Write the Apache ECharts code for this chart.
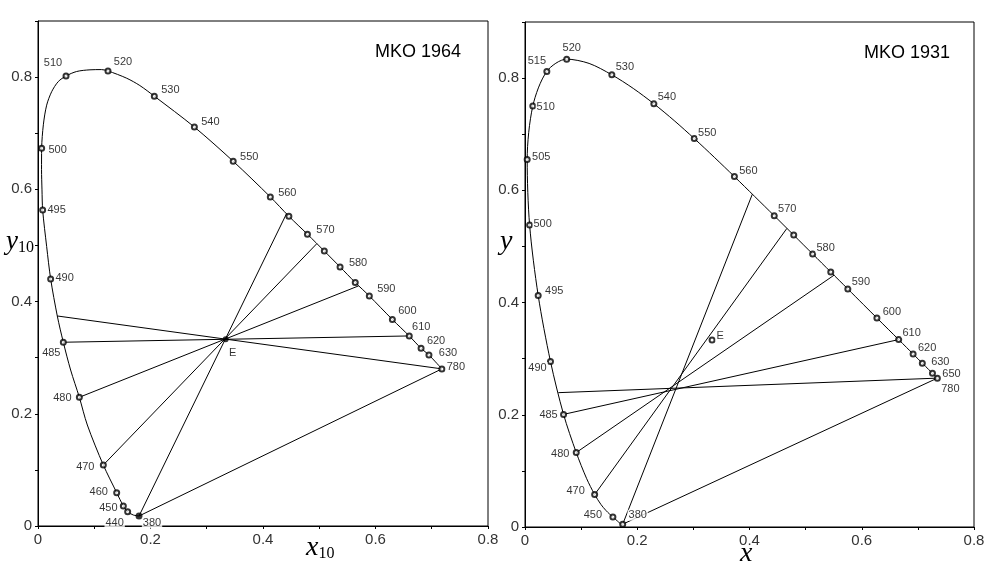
<!DOCTYPE html>
<html>
<head>
<meta charset="utf-8">
<title>MKO 1964 / MKO 1931</title>
<script src="https://cdn.jsdelivr.net/npm/echarts@6/dist/echarts.min.js"></script>
<style>
  html, body { margin: 0; padding: 0; background: #fff; }
  #chart { width: 988px; height: 579px; }
</style>
</head>
<body>
<div id="chart"></div>
<script>
// MKO 1964 (10 deg) spectrum locus
var locus64 = [
  [0.1796, 0.0178], [0.1694, 0.0196], [0.1594, 0.0255], [0.1517, 0.0357], [0.1399, 0.0594],
  [0.1161, 0.1087], [0.0877, 0.1800], [0.0735, 0.2294], [0.0580, 0.2780], [0.0450, 0.3275],
  [0.0343, 0.3743], [0.0225, 0.4403], [0.0154, 0.4980], [0.0083, 0.5630], [0.0071, 0.5990],
  [0.0063, 0.6350], [0.0065, 0.6730], [0.0095, 0.7150], [0.0154, 0.7500], [0.0243, 0.7740],
  [0.0360, 0.7920], [0.0498, 0.8020], [0.0687, 0.8100], [0.0924, 0.8130], [0.1130, 0.8134],
  [0.1244, 0.8110], [0.1577, 0.7980], [0.1810, 0.7850], [0.2068, 0.7660], [0.2780, 0.7110],
  [0.3470, 0.6500], [0.4130, 0.5865], [0.4460, 0.5520], [0.4790, 0.5200], [0.5090, 0.4900],
  [0.5370, 0.4617], [0.5640, 0.4340], [0.5890, 0.4100], [0.6300, 0.3680], [0.6600, 0.3387],
  [0.6810, 0.3167], [0.6950, 0.3048], [0.7180, 0.2800]
];
// markers: x, y, wavelength label ('' = unlabelled)
var marks64 = [
  [0.1594, 0.0255, '440'], [0.1517, 0.0357, '450'], [0.1399, 0.0594, '460'], [0.1161, 0.1087, '470'],
  [0.0735, 0.2294, '480'], [0.0450, 0.3275, '485'], [0.0225, 0.4403, '490'], [0.0083, 0.5630, '495'],
  [0.0065, 0.6730, '500'], [0.0498, 0.8020, '510'], [0.1244, 0.8110, '520'], [0.2068, 0.7660, '530'],
  [0.2780, 0.7110, '540'], [0.3470, 0.6500, '550'], [0.4130, 0.5865, '560'], [0.4460, 0.5520, ''],
  [0.4790, 0.5200, '570'], [0.5090, 0.4900, ''], [0.5370, 0.4617, '580'], [0.5640, 0.4340, ''],
  [0.5890, 0.4100, '590'], [0.6300, 0.3680, '600'], [0.6600, 0.3387, '610'], [0.6810, 0.3167, '620'],
  [0.6950, 0.3048, '630'], [0.7180, 0.2800, '780']
];
var violet64 = [0.1796, 0.0178, '380'];
var white64 = [0.3337, 0.3328, 'E'];
var chords64 = [
  [[0.1796, 0.0178], [0.4420, 0.5570]],
  [[0.1161, 0.1087], [0.4955, 0.5030]],
  [[0.0735, 0.2294], [0.5700, 0.4280]],
  [[0.0450, 0.3275], [0.6600, 0.3387]],
  [[0.0343, 0.3743], [0.7180, 0.2800]],
  [[0.1796, 0.0178], [0.7180, 0.2800]]
];

// MKO 1931 (2 deg) spectrum locus
var locus31 = [
  [0.1741, 0.0050], [0.1740, 0.0050], [0.1738, 0.0049], [0.1736, 0.0049], [0.1733, 0.0048],
  [0.1730, 0.0048], [0.1726, 0.0048], [0.1721, 0.0048], [0.1714, 0.0051], [0.1703, 0.0058],
  [0.1689, 0.0069], [0.1669, 0.0086], [0.1644, 0.0109], [0.1611, 0.0138], [0.1566, 0.0177],
  [0.1510, 0.0227], [0.1440, 0.0297], [0.1355, 0.0399], [0.1241, 0.0578], [0.1096, 0.0868],
  [0.0913, 0.1327], [0.0687, 0.2007], [0.0454, 0.2950], [0.0235, 0.4127], [0.0082, 0.5384],
  [0.0039, 0.6548], [0.0139, 0.7502], [0.0389, 0.8120], [0.0743, 0.8338], [0.1142, 0.8262],
  [0.1547, 0.8059], [0.1929, 0.7816], [0.2296, 0.7543], [0.2658, 0.7243], [0.3016, 0.6923],
  [0.3373, 0.6589], [0.3731, 0.6245], [0.4087, 0.5896], [0.4441, 0.5547], [0.4788, 0.5202],
  [0.5125, 0.4866], [0.5448, 0.4544], [0.5752, 0.4242], [0.6029, 0.3965], [0.6270, 0.3725],
  [0.6482, 0.3514], [0.6658, 0.3340], [0.6801, 0.3197], [0.6915, 0.3083], [0.7006, 0.2993],
  [0.7079, 0.2920], [0.7140, 0.2859], [0.7190, 0.2809], [0.7230, 0.2770], [0.7260, 0.2740],
  [0.7300, 0.2700], [0.7347, 0.2653]
];
var marks31 = [
  [0.1741, 0.0050, '380'], [0.1566, 0.0177, '450'], [0.1241, 0.0578, '470'], [0.0913, 0.1327, '480'],
  [0.0687, 0.2007, '485'], [0.0454, 0.2950, '490'], [0.0235, 0.4127, '495'], [0.0082, 0.5384, '500'],
  [0.0039, 0.6548, '505'], [0.0139, 0.7502, '510'], [0.0389, 0.8120, '515'], [0.0743, 0.8338, '520'],
  [0.1547, 0.8059, '530'], [0.2296, 0.7543, '540'], [0.3016, 0.6923, '550'], [0.3731, 0.6245, '560'],
  [0.4441, 0.5547, '570'], [0.4788, 0.5202, ''], [0.5125, 0.4866, '580'], [0.5448, 0.4544, ''],
  [0.5752, 0.4242, '590'], [0.6270, 0.3725, '600'], [0.6658, 0.3340, '610'], [0.6915, 0.3083, '620'],
  [0.7079, 0.2920, '630'], [0.7260, 0.2740, '650'], [0.7347, 0.2653, '780']
];
var white31 = [0.3333, 0.3333, 'E'];
var chords31 = [
  [[0.1741, 0.0050], [0.4050, 0.5930]],
  [[0.1241, 0.0578], [0.4665, 0.5320]],
  [[0.0913, 0.1327], [0.5510, 0.4490]],
  [[0.0687, 0.2007], [0.6658, 0.3340]],
  [[0.0594, 0.2394], [0.7347, 0.2653]],
  [[0.1741, 0.0050], [0.7347, 0.2653]]
];

// label offsets (px, label centre vs marker centre)
var off64 = {
  '380': [13, 7], '440': [-13, 11], '450': [-15, 2], '460': [-18, -1], '470': [-18, 2], '480': [-17, 1],
  '485': [-12, 11], '490': [14, -1], '495': [14, 0], '500': [16, 2], '510': [-13, -13], '520': [15, -9],
  '530': [16, -6], '540': [16, -5], '550': [16, -4], '560': [17, -4], '570': [18, -4], '580': [18, -4],
  '590': [17, -7], '600': [15, -9], '610': [12, -9], '620': [15, -7], '630': [19, -2], '780': [14, -2],
  'E': [7, 14]
};
var off31 = {
  '380': [15, -9], '450': [-20, -2], '470': [-19, -4], '480': [-16, 1], '485': [-15, 1], '490': [-13, 6],
  '495': [16, -4], '500': [13, -1], '505': [14, -3], '510': [13, 1], '515': [-10, -10], '520': [5, -11],
  '530': [13, -8], '540': [13, -7], '550': [13, -6], '560': [14, -6], '570': [13, -7], '580': [13, -6],
  '590': [13, -7], '600': [15, -6], '610': [13, -7], '620': [14, -6], '630': [18, -1], '650': [19, 1],
  '780': [13, 11], 'E': [8, -4]
};

var chart = echarts.init(document.getElementById('chart'));

var tickFmt = function (v) {
  var t = Math.round(v * 10);
  return t % 2 === 0 ? String(t / 10) : '';
};

function makeAxis(idx, max) {
  return {
    type: 'value', gridIndex: idx, min: 0, max: max, interval: 0.1,
    axisLine: { show: true, lineStyle: { color: '#000', width: 1 } },
    axisTick: { show: true, length: 3, lineStyle: { color: '#000' } },
    splitLine: { show: false },
    axisLabel: {
      formatter: tickFmt, color: '#333', fontSize: 15, fontFamily: 'Liberation Sans',
      margin: 6, showMinLabel: true, showMaxLabel: true
    }
  };
}

function pointLabel(text, off) {
  return {
    show: text !== '', formatter: text, position: 'inside', offset: off[text] || [0, 0],
    color: '#000', fontSize: 11, fontFamily: 'Liberation Sans',
    backgroundColor: '#fff', padding: [0, 1]
  };
}

function markSeries(idx, marks, off) {
  var data = marks.map(function (m) {
    return { value: [m[0], m[1]], label: pointLabel(m[2], off) };
  });
  return {
    type: 'scatter', xAxisIndex: idx, yAxisIndex: idx, z: 5,
    symbol: 'emptyCircle', symbolSize: 5,
    itemStyle: { color: '#000', borderColor: '#000', borderWidth: 1 },
    data: data, silent: true
  };
}

var series = [];
[[locus64, chords64, 0], [locus31, chords31, 1]].forEach(function (s) {
  series.push({
    type: 'line', xAxisIndex: s[2], yAxisIndex: s[2], data: s[0], smooth: 0.3,
    showSymbol: false, lineStyle: { color: '#000', width: 1 }, silent: true
  });
  s[1].forEach(function (c) {
    series.push({
      type: 'line', xAxisIndex: s[2], yAxisIndex: s[2], data: c,
      showSymbol: false, lineStyle: { color: '#000', width: 1 }, silent: true
    });
  });
});
series.push(markSeries(0, marks64, off64));
series.push(markSeries(1, marks31, off31));
// filled points: 380 and E on the 1964 diagram
series.push({
  type: 'scatter', xAxisIndex: 0, yAxisIndex: 0, z: 6, symbol: 'circle', silent: true,
  itemStyle: { color: '#000' },
  data: [
    { value: [violet64[0], violet64[1]], symbolSize: 7, label: pointLabel(violet64[2], off64) },
    { value: [white64[0], white64[1]], symbolSize: 6, label: pointLabel(white64[2], off64) }
  ]
});
series.push({
  type: 'scatter', xAxisIndex: 1, yAxisIndex: 1, z: 6, symbol: 'emptyCircle', symbolSize: 5, silent: true,
  itemStyle: { color: '#000', borderColor: '#000', borderWidth: 1 },
  data: [{ value: [white31[0], white31[1]], label: pointLabel(white31[2], off31) }]
});

var option = {
  backgroundColor: '#fff',
  animation: false,
  grid: [
    { left: 38, right: 500, top: 21, bottom: 53, show: true, borderColor: '#000', borderWidth: 1 },
    { left: 525, right: 14, top: 22, bottom: 52, show: true, borderColor: '#000', borderWidth: 1 }
  ],
  xAxis: [makeAxis(0, 0.8), makeAxis(1, 0.8)],
  yAxis: [makeAxis(0, 0.9), makeAxis(1, 0.9)],
  graphic: [
    { type: 'text', left: 375, top: 43, style: { text: 'MKO 1964', font: '18px "Liberation Sans"', fill: '#000' } },
    { type: 'text', left: 864, top: 44, style: { text: 'MKO 1931', font: '18px "Liberation Sans"', fill: '#000' } },
    {
      type: 'text', left: 6, top: 228,
      style: {
        text: '{a|y}{b|10}', fill: '#000',
        rich: {
          a: { fontFamily: 'Liberation Serif', fontStyle: 'italic', fontSize: 27 },
          b: { fontFamily: 'Liberation Serif', fontSize: 16, padding: [12, 0, 0, 0] }
        }
      }
    },
    {
      type: 'text', left: 306, top: 534,
      style: {
        text: '{a|x}{b|10}', fill: '#000',
        rich: {
          a: { fontFamily: 'Liberation Serif', fontStyle: 'italic', fontSize: 28 },
          b: { fontFamily: 'Liberation Serif', fontSize: 16, padding: [12, 0, 0, 0] }
        }
      }
    },
    { type: 'text', left: 500, top: 228, style: { text: 'y', font: 'italic 28px "Liberation Serif"', fill: '#000' } },
    { type: 'text', left: 740, top: 540, style: { text: 'x', font: 'italic 28px "Liberation Serif"', fill: '#000' } }
  ],
  series: series
};

chart.setOption(option);
</script>
</body>
</html>
